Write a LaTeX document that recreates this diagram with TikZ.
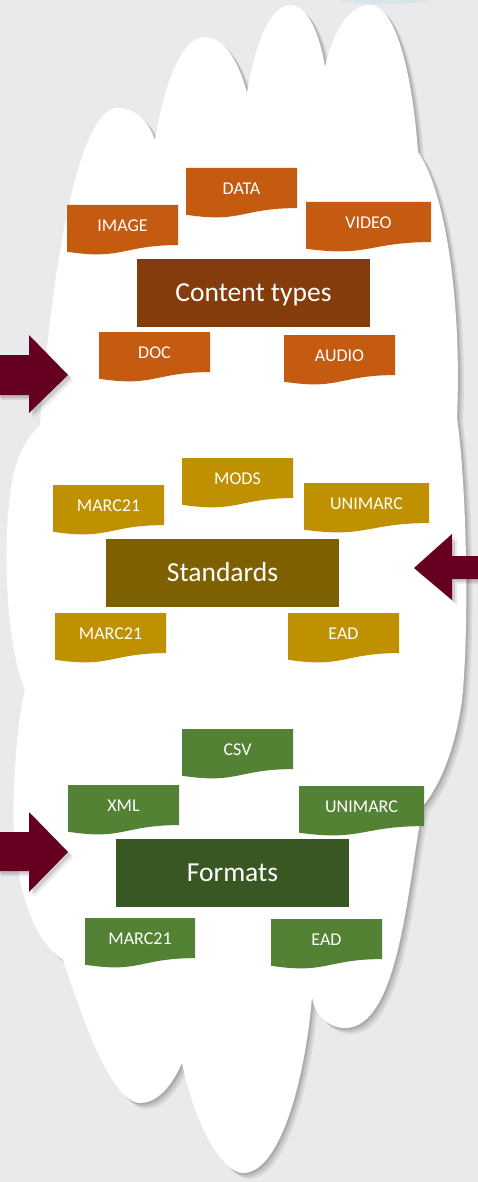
\documentclass[tikz,border=0pt]{standalone}
\usepackage{fontspec}
\setmainfont{Carlito}
\usetikzlibrary{calc}
\definecolor{bgc}{RGB}{234,234,236}
\definecolor{orangec}{RGB}{197,90,17}
\definecolor{brownc}{RGB}{132,60,12}
\definecolor{goldc}{RGB}{191,144,0}
\definecolor{dgoldc}{RGB}{127,96,0}
\definecolor{greenc}{RGB}{84,130,53}
\definecolor{dgreenc}{RGB}{56,87,35}
\definecolor{arrowc}{RGB}{102,0,32}
\definecolor{tealc}{RGB}{200,224,226}
\pgfdeclarelayer{bg}
\pgfdeclarelayer{mid}
\pgfsetlayers{bg,mid,main}
\tikzset{
  lbl/.style={inner sep=0pt, outer sep=0pt, minimum height=50pt, text=white,
    font=\fontsize{18}{20}\selectfont, text height=11.6pt, text depth=9pt, anchor=north west},
  mainbox/.style={inner sep=0pt, outer sep=0pt, minimum width=233pt, minimum height=68pt, text=white,
    font=\fontsize{27.5}{31}\selectfont, text height=17.7pt, text depth=0pt},
  blockarrow/.style={fill=arrowc},
  softshadow/.style={fill=black, opacity=#1},
}
\newcommand\docbox[6]{%
  \node[lbl, minimum width=#4pt] (#1) at (#2,#3) {#6};
  \begin{pgfonlayer}{mid}
  \fill[#5] (#1.north west) -- (#1.north east) -- ($(#1.north east)!0.802!(#1.south east)$)
    .. controls ($(#1.north)!0.802!(#1.south)$) and ($(#1.north)!1.1075!(#1.south)$) ..
    ($(#1.north west)!0.934!(#1.south west)$) -- cycle;
  \end{pgfonlayer}}
\def\cloudpath{(40,425) .. controls (50,290) and (75,108) .. (118,108)
  .. controls (138,108) and (150,125) .. (155,140)
  .. controls (163,90) and (180,37) .. (205,37)
  .. controls (225,37) and (240,65) .. (247,93)
  .. controls (255,45) and (270,5) .. (290,5)
  .. controls (308,5) and (320,35) .. (325,67)
  .. controls (333,30) and (350,5) .. (370,5)
  .. controls (395,5) and (412,70) .. (418,152)
  .. controls (445,190) and (462,300) .. (457,418)
  .. controls (466,480) and (470,620) .. (462,700)
  .. controls (455,750) and (440,785) .. (423,806)
  .. controls (408,880) and (400,1028) .. (345,1028)
  .. controls (328,1028) and (315,1015) .. (312,997)
  .. controls (305,1080) and (280,1173) .. (243,1173)
  .. controls (222,1173) and (195,1125) .. (182,1063)
  .. controls (170,1090) and (155,1103) .. (140,1103)
  .. controls (110,1103) and (80,1010) .. (63,960)
  .. controls (25,935) and (10,860) .. (14,790)
  .. controls (16,740) and (20,710) .. (25,690)
  .. controls (8,650) and (2,560) .. (10,495)
  .. controls (14,460) and (25,440) .. (40,425) -- cycle}
\def\arrowA{(-4,355) -- (29,355) -- (29,335) -- (68,375) -- (29,413) -- (29,395) -- (-4,395) -- cycle}
\def\arrowB{(482,556) -- (452,556) -- (452,534) -- (414,568) -- (452,600) -- (452,579) -- (482,579) -- cycle}
\def\arrowC{(-4,832) -- (29,832) -- (29,812) -- (68,852) -- (29,892) -- (29,871) -- (-4,871) -- cycle}
\begin{document}
\begin{tikzpicture}[x=1pt,y=-1pt]
\useasboundingbox (0,0) rectangle (478,1182);
\begin{pgfonlayer}{bg}
  \fill[bgc] (0,0) rectangle (478,1182);
  \fill[tealc, opacity=0.5] (385,0) ellipse (44 and 4);
  \fill[softshadow=0.07, shift={(6,6)}] \cloudpath;
  \fill[softshadow=0.09, shift={(4,4)}] \cloudpath;
  \fill[softshadow=0.12, shift={(2,2)}] \cloudpath;
  \fill[white] \cloudpath;
\end{pgfonlayer}

% Content types
\docbox{data}{186}{168}{111}{orangec}{DATA}
\docbox{image}{67}{205}{111}{orangec}{IMAGE}
\docbox{video}{306}{202}{125}{orangec}{VIDEO}
\node[mainbox, fill=brownc] (content) at (253.5,293) {Content types};
\docbox{doc}{99}{332}{111}{orangec}{DOC}
\docbox{audio}{284}{335}{111}{orangec}{AUDIO}

% Standards
\docbox{mods}{182}{458}{111}{goldc}{MODS}
\docbox{marcA}{53}{485}{111}{goldc}{MARC21}
\docbox{unimarcA}{304}{483}{125}{goldc}{UNIMARC}
\node[mainbox, fill=dgoldc] (standards) at (222.5,573) {Standards};
\docbox{marcB}{55}{613}{111}{goldc}{MARC21}
\docbox{eadA}{288}{613}{111}{goldc}{EAD}

% Formats
\docbox{csv}{182}{729}{111}{greenc}{CSV}
\docbox{xml}{68}{785}{111}{greenc}{XML}
\docbox{unimarcB}{299}{786}{125}{greenc}{UNIMARC}
\node[mainbox, fill=dgreenc] (formats) at (232.5,873) {Formats};
\docbox{marcC}{85}{918}{110}{greenc}{MARC21}
\docbox{eadB}{271}{919}{111}{greenc}{EAD}

% Block arrows
\foreach \s/\o in {5/0.08, 3/0.12} {
  \fill[softshadow=\o, shift={(\s,\s)}] \arrowA;
  \fill[softshadow=\o, shift={(\s,\s)}] \arrowB;
  \fill[softshadow=\o, shift={(\s,\s)}] \arrowC;
}
\fill[blockarrow] \arrowA;
\fill[blockarrow] \arrowB;
\fill[blockarrow] \arrowC;
\end{tikzpicture}
\end{document}
